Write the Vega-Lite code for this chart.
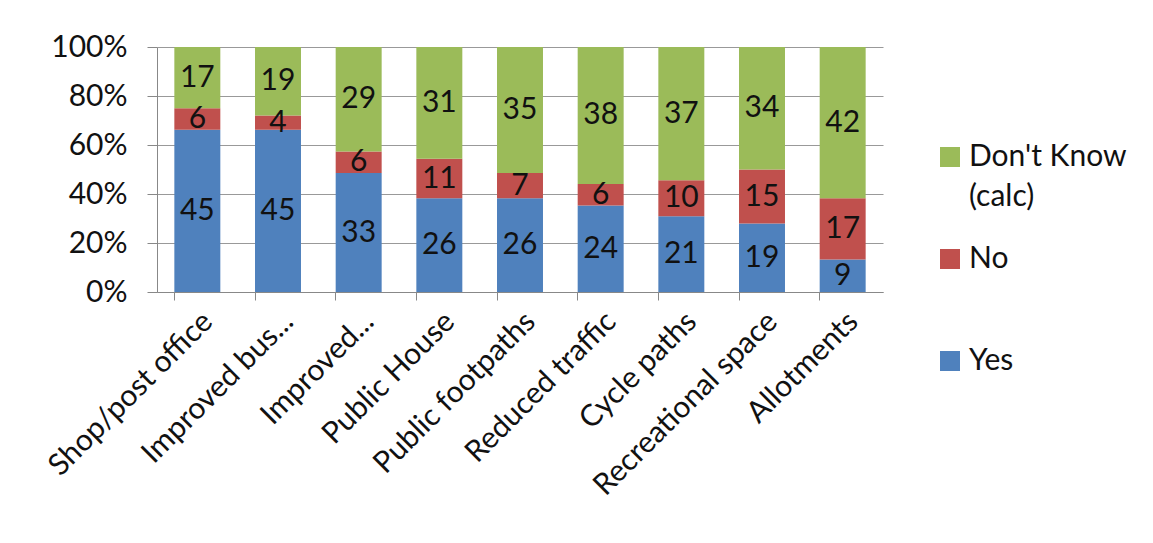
{
  "$schema": "https://vega.github.io/schema/vega-lite/v6.json",
  "autosize": "none",
  "padding": {"left": 157, "top": 47, "right": 270, "bottom": 251},
  "width": 726,
  "height": 245,
  "background": "white",
  "config": {
    "font": "Lato",
    "view": {"stroke": null},
    "style": {"guide-label": {"lineHeight": 40}},
    "axis": {"labelFont": "Lato", "labelColor": "#111", "domainColor": "#888", "tickColor": "#888", "gridColor": "#999"}
  },
  "data": {
    "values": [
      {"item": "Shop/post office", "resp": "Yes", "k": 1, "n": 45},
      {"item": "Shop/post office", "resp": "No", "k": 2, "n": 6},
      {"item": "Shop/post office", "resp": "Don't Know (calc)", "k": 3, "n": 17},
      {"item": "Improved bus...", "resp": "Yes", "k": 1, "n": 45},
      {"item": "Improved bus...", "resp": "No", "k": 2, "n": 4},
      {"item": "Improved bus...", "resp": "Don't Know (calc)", "k": 3, "n": 19},
      {"item": "Improved...", "resp": "Yes", "k": 1, "n": 33},
      {"item": "Improved...", "resp": "No", "k": 2, "n": 6},
      {"item": "Improved...", "resp": "Don't Know (calc)", "k": 3, "n": 29},
      {"item": "Public House", "resp": "Yes", "k": 1, "n": 26},
      {"item": "Public House", "resp": "No", "k": 2, "n": 11},
      {"item": "Public House", "resp": "Don't Know (calc)", "k": 3, "n": 31},
      {"item": "Public footpaths", "resp": "Yes", "k": 1, "n": 26},
      {"item": "Public footpaths", "resp": "No", "k": 2, "n": 7},
      {"item": "Public footpaths", "resp": "Don't Know (calc)", "k": 3, "n": 35},
      {"item": "Reduced traffic", "resp": "Yes", "k": 1, "n": 24},
      {"item": "Reduced traffic", "resp": "No", "k": 2, "n": 6},
      {"item": "Reduced traffic", "resp": "Don't Know (calc)", "k": 3, "n": 38},
      {"item": "Cycle paths", "resp": "Yes", "k": 1, "n": 21},
      {"item": "Cycle paths", "resp": "No", "k": 2, "n": 10},
      {"item": "Cycle paths", "resp": "Don't Know (calc)", "k": 3, "n": 37},
      {"item": "Recreational space", "resp": "Yes", "k": 1, "n": 19},
      {"item": "Recreational space", "resp": "No", "k": 2, "n": 15},
      {"item": "Recreational space", "resp": "Don't Know (calc)", "k": 3, "n": 34},
      {"item": "Allotments", "resp": "Yes", "k": 1, "n": 9},
      {"item": "Allotments", "resp": "No", "k": 2, "n": 17},
      {"item": "Allotments", "resp": "Don't Know (calc)", "k": 3, "n": 42}
    ]
  },
  "encoding": {
    "x": {
      "field": "item", "type": "nominal", "sort": null, "title": null,
      "scale": {"paddingInner": 0.43, "paddingOuter": 0.215},
      "axis": {"labelAngle": -45, "labelFontSize": 30, "labelPadding": 6, "tickSize": 8, "bandPosition": 0, "labelLimit": 300}
    },
    "order": {"field": "k", "type": "quantitative"}
  },
  "layer": [
    {
      "mark": {"type": "bar"},
      "encoding": {
        "y": {
          "field": "n", "type": "quantitative", "stack": "normalize", "title": null,
          "axis": {"values": [0, 0.2, 0.4, 0.6, 0.8, 1], "format": ".0%", "labelFontSize": 30, "labelPadding": 20, "tickSize": 10, "grid": true}
        },
        "color": {
          "field": "resp", "type": "nominal",
          "scale": {"domain": ["Don't Know (calc)", "No", "Yes"], "range": ["#9BBB59", "#C0504D", "#4F81BD"]},
          "legend": {
            "title": null, "orient": "none", "legendX": 778, "legendY": 95,
            "symbolType": "square", "symbolSize": 400, "symbolStrokeWidth": 0,
            "labelFontSize": 30, "labelFont": "Lato", "labelColor": "#111", "rowPadding": 32,
            "labelExpr": "datum.label == \"Don't Know (calc)\" ? [\"Don't Know\", \"(calc)\"] : [datum.label, \" \"]"
          }
        }
      }
    },
    {
      "mark": {"type": "text", "fontSize": 30, "color": "#111", "font": "Lato"},
      "encoding": {
        "y": {"field": "n", "type": "quantitative", "stack": "normalize", "bandPosition": 0.5},
        "text": {"field": "n", "type": "quantitative"}
      }
    }
  ]
}
